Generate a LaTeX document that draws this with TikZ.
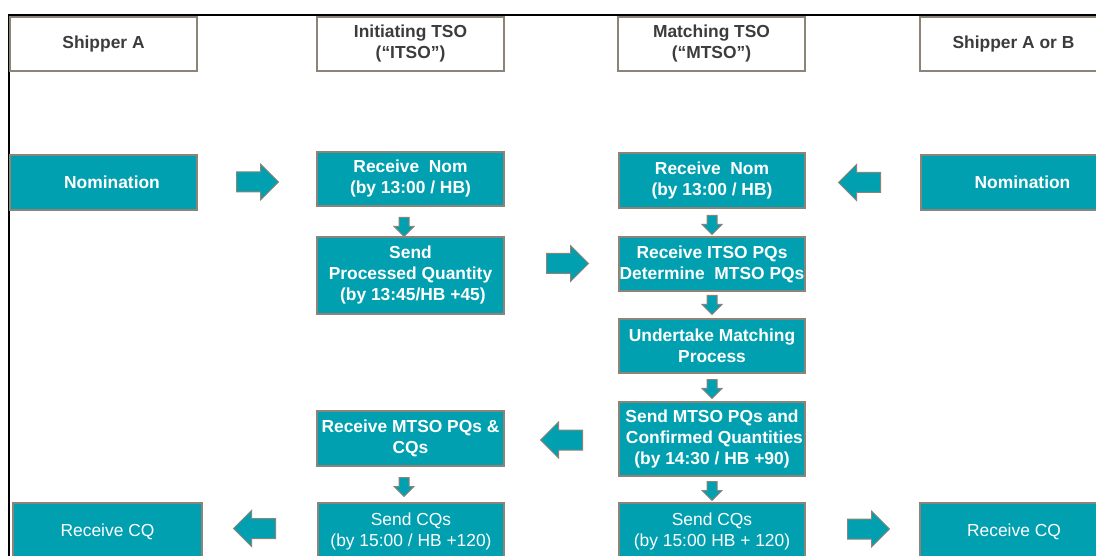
\documentclass[tikz,border=0pt]{standalone}
\usepackage{fontspec}
\setmainfont{Liberation Sans}
\usetikzlibrary{shapes.arrows}
\definecolor{tealbox}{RGB}{0,160,176}
\definecolor{boxline}{RGB}{140,132,120}
\definecolor{hdrtext}{RGB}{60,60,60}
\tikzset{
  base/.style={draw=boxline, line width=1.2pt, inner sep=0pt, align=center,
    font=\fontsize{17.4}{21}\selectfont},
  hdr/.style={base, fill=white, text=hdrtext, font=\fontsize{17.4}{21}\selectfont\bfseries,
    minimum width=187pt, minimum height=54pt},
  tbox/.style={base, fill=tealbox, text=white, font=\fontsize{17.4}{21}\selectfont\bfseries},
  tboxr/.style={base, fill=tealbox, text=white},
  harrow/.style={single arrow, draw=boxline, fill=tealbox, line width=1pt,
    inner xsep=0pt, inner ysep=9.5pt, anchor=tail,
    minimum height=42pt, single arrow head extend=8pt},
  varrow/.style={single arrow, draw=boxline, fill=tealbox, line width=1pt,
    inner xsep=0pt, inner ysep=4.5pt, anchor=tail,
    minimum height=19pt, single arrow head extend=5pt, rotate=-90},
}
\begin{document}
\begin{tikzpicture}[x=1pt,y=-1pt]
\useasboundingbox (0,0) rectangle (1096,556);
\fill[white] (0,0) rectangle (1096,556);
% frame
\draw[black, line width=2pt] (9,570) -- (9,15) -- (1100,15);
% headers
\node[hdr] (hA) at (103.5,44) {Shipper A};
\node[hdr] (hI) at (410.5,44) {Initiating TSO\\(“ITSO”)};
\node[hdr] (hM) at (711.5,44) {Matching TSO\\(“MTSO”)};
\node[hdr] (hB) at (1013.5,44) {Shipper A or B};
% left column
\node[tbox, minimum width=187pt, minimum height=55pt] (nomL) at (103.5,182.5) {\hspace*{17pt}Nomination};
\node[tboxr, minimum width=189pt, minimum height=57pt] (rcL) at (107.5,531.5) {Receive CQ};
% ITSO column
\node[tbox, minimum width=187pt, minimum height=54pt] (rnI) at (410.5,179) {Receive\ \ Nom\\(by 13:00 / HB)};
\node[tbox, minimum width=187pt, minimum height=77pt] (spI) at (410.5,275.5) {Send\\Processed Quantity\\\ (by 13:45/HB +45)};
\node[tbox, minimum width=187pt, minimum height=55pt] (rmI) at (410.5,438.5) {Receive MTSO PQs \&\\CQs};
\node[tboxr, minimum width=186pt, minimum height=57pt] (scI) at (411,531.5) {Send CQs\\(by 15:00 / HB +120)};
% MTSO column
\node[tbox, minimum width=186pt, minimum height=55pt] (rnM) at (712,180.5) {Receive\ \ Nom\\(by 13:00 / HB)};
\node[tbox, minimum width=186pt, minimum height=54pt] (rpM) at (712,264) {Receive ITSO PQs\\Determine\ \ MTSO PQs};
\node[tbox, minimum width=186pt, minimum height=54pt] (umM) at (712,346) {Undertake Matching\\Process};
\node[tbox, minimum width=186pt, minimum height=74pt] (smM) at (712,439) {Send MTSO PQs and\\\ Confirmed Quantities\\(by 14:30 / HB +90)};
\node[tboxr, minimum width=186pt, minimum height=57pt] (scM) at (712,531.5) {Send CQs\\(by 15:00 HB + 120)};
% right column
\node[tbox, minimum width=187pt, minimum height=55pt] (nomR) at (1014.5,182.5) {\hspace*{16pt}Nomination};
\node[tboxr, minimum width=188pt, minimum height=57pt] (rcR) at (1014,531.5) {Receive CQ};
% horizontal block arrows (placed by their tail)
\node[harrow] (a1) at (236,182) {};
\node[harrow] (a2) at (546,263.5) {};
\node[harrow, rotate=180] (a3) at (881,182.5) {};
\node[harrow, rotate=180] (a4) at (583,440) {};
\node[harrow, rotate=180] (a5) at (276,528.5) {};
\node[harrow] (a6) at (847,529) {};
% vertical block arrows (placed by their tail)
\node[varrow] (d1) at (404,217) {};
\node[varrow] (d2) at (404,477) {};
\node[varrow] (d3) at (712,215) {};
\node[varrow] (d4) at (712,295) {};
\node[varrow] (d5) at (712,379) {};
\node[varrow] (d6) at (712,481) {};
\end{tikzpicture}
\end{document}
